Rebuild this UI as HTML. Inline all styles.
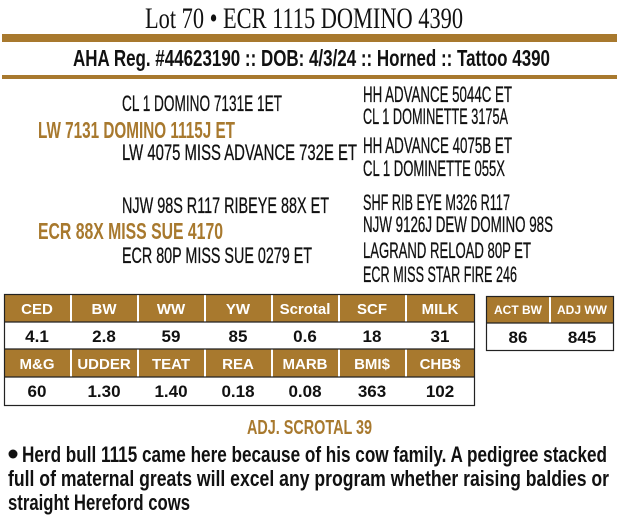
<!DOCTYPE html>
<html><head><meta charset="utf-8"><style>
html,body{margin:0;padding:0;background:#fff;}
svg{display:block;}
.s{font-family:"Liberation Sans Narrow","Liberation Sans",sans-serif;}
.b{font-weight:bold;}
</style></head><body>
<svg width="619" height="526" viewBox="0 0 619 526" xmlns="http://www.w3.org/2000/svg">
<text x="145" y="28" font-family="Liberation Serif,serif" font-size="30" textLength="318" lengthAdjust="spacingAndGlyphs" fill="#111">Lot 70 • ECR 1115 DOMINO 4390</text>
<rect x="2" y="34" width="615" height="8" fill="#a8792e"/>
<text class="s b" x="73" y="66" font-size="23" textLength="477" lengthAdjust="spacingAndGlyphs" fill="#111">AHA Reg. #44623190 :: DOB: 4/3/24 :: Horned :: Tattoo 4390</text>
<rect x="2" y="75" width="615" height="4" fill="#a8792e"/>

<g class="s" font-size="22" fill="#111" stroke="#111" stroke-width="0.3">
<text x="122" y="111" textLength="160" lengthAdjust="spacingAndGlyphs">CL 1 DOMINO 7131E 1ET</text>
<text x="122" y="160" textLength="235" lengthAdjust="spacingAndGlyphs">LW 4075 MISS ADVANCE 732E ET</text>
<text x="363" y="102" textLength="149" lengthAdjust="spacingAndGlyphs">HH ADVANCE 5044C ET</text>
<text x="363" y="124" textLength="145" lengthAdjust="spacingAndGlyphs">CL 1 DOMINETTE 3175A</text>
<text x="363" y="153" textLength="149" lengthAdjust="spacingAndGlyphs">HH ADVANCE 4075B ET</text>
<text x="363" y="176" textLength="142" lengthAdjust="spacingAndGlyphs">CL 1 DOMINETTE 055X</text>
<text x="122" y="213" textLength="207" lengthAdjust="spacingAndGlyphs">NJW 98S R117 RIBEYE 88X ET</text>
<text x="122" y="263" textLength="190" lengthAdjust="spacingAndGlyphs">ECR 80P MISS SUE 0279 ET</text>
<text x="363" y="210" textLength="147" lengthAdjust="spacingAndGlyphs">SHF RIB EYE M326 R117</text>
<text x="363" y="232" textLength="190" lengthAdjust="spacingAndGlyphs">NJW 9126J DEW DOMINO 98S</text>
<text x="363" y="258" textLength="168" lengthAdjust="spacingAndGlyphs">LAGRAND RELOAD 80P ET</text>
<text x="363" y="282" textLength="154" lengthAdjust="spacingAndGlyphs">ECR MISS STAR FIRE 246</text>
</g>
<g class="s b" font-size="23" fill="#a8792e">
<text x="38" y="138" textLength="197" lengthAdjust="spacingAndGlyphs">LW 7131 DOMINO 1115J ET</text>
<text x="38" y="239" textLength="185" lengthAdjust="spacingAndGlyphs">ECR 88X MISS SUE 4170</text>
</g>

<g>
<rect x="4" y="294" width="470" height="28" fill="#a8792e"/>
<rect x="4" y="349" width="470" height="28" fill="#a8792e"/>
<g stroke="#fff" stroke-width="2">
<line x1="71" y1="294" x2="71" y2="322"/><line x1="138" y1="294" x2="138" y2="322"/><line x1="205" y1="294" x2="205" y2="322"/><line x1="272" y1="294" x2="272" y2="322"/><line x1="339" y1="294" x2="339" y2="322"/><line x1="406" y1="294" x2="406" y2="322"/>
<line x1="71" y1="349" x2="71" y2="377"/><line x1="138" y1="349" x2="138" y2="377"/><line x1="205" y1="349" x2="205" y2="377"/><line x1="272" y1="349" x2="272" y2="377"/><line x1="339" y1="349" x2="339" y2="377"/><line x1="406" y1="349" x2="406" y2="377"/>
</g>
<rect x="4.5" y="294.5" width="470" height="111" fill="none" stroke="#222" stroke-width="1.2"/>
<line x1="4" y1="322" x2="474" y2="322" stroke="#222" stroke-width="1.2"/>
<line x1="4" y1="349" x2="474" y2="349" stroke="#222" stroke-width="1.2"/>
<line x1="4" y1="377" x2="474" y2="377" stroke="#222" stroke-width="1.2"/>
<g class="s b" font-size="15" fill="#fff" text-anchor="middle">
<text x="37" y="314">CED</text><text x="104" y="314">BW</text><text x="171" y="314">WW</text><text x="238" y="314">YW</text><text x="305" y="314">Scrotal</text><text x="372" y="314">SCF</text><text x="440" y="314">MILK</text>
<text x="37" y="369">M&amp;G</text><text x="104" y="369">UDDER</text><text x="171" y="369">TEAT</text><text x="238" y="369">REA</text><text x="305" y="369">MARB</text><text x="372" y="369">BMI$</text><text x="440" y="369">CHB$</text>
</g>
<g class="s b" font-size="17" fill="#111" text-anchor="middle">
<text x="37" y="342">4.1</text><text x="104" y="342">2.8</text><text x="171" y="342">59</text><text x="238" y="342">85</text><text x="305" y="342">0.6</text><text x="372" y="342">18</text><text x="440" y="342">31</text>
<text x="37" y="397">60</text><text x="104" y="397">1.30</text><text x="171" y="397">1.40</text><text x="238" y="397">0.18</text><text x="305" y="397">0.08</text><text x="372" y="397">363</text><text x="440" y="397">102</text>
</g>
</g>

<rect x="486" y="296" width="128" height="27" fill="#a8792e"/>
<line x1="550" y1="296" x2="550" y2="323" stroke="#fff" stroke-width="2"/>
<rect x="486.5" y="296.5" width="127" height="54" fill="none" stroke="#222" stroke-width="1.2"/>
<line x1="486" y1="323" x2="614" y2="323" stroke="#222" stroke-width="1.2"/>
<g class="s b" font-size="12" fill="#fff" text-anchor="middle">
<text x="518" y="314">ACT BW</text><text x="582" y="314">ADJ WW</text>
</g>
<g class="s b" font-size="17" fill="#111" text-anchor="middle">
<text x="518" y="343">86</text><text x="582" y="343">845</text>
</g>

<text class="s b" x="247" y="434" font-size="20" textLength="125" lengthAdjust="spacingAndGlyphs" fill="#a8792e">ADJ. SCROTAL 39</text>

<circle cx="13" cy="454" r="4.5" fill="#111"/>
<g class="s b" font-size="22" fill="#111">
<text x="22" y="462" textLength="585" lengthAdjust="spacingAndGlyphs">Herd bull 1115 came here because of his cow family. A pedigree stacked</text>
<text x="8" y="486" textLength="601" lengthAdjust="spacingAndGlyphs">full of maternal greats will excel any program whether raising baldies or</text>
<text x="8" y="510" textLength="182" lengthAdjust="spacingAndGlyphs">straight Hereford cows</text>
</g>
</svg>
</body></html>
